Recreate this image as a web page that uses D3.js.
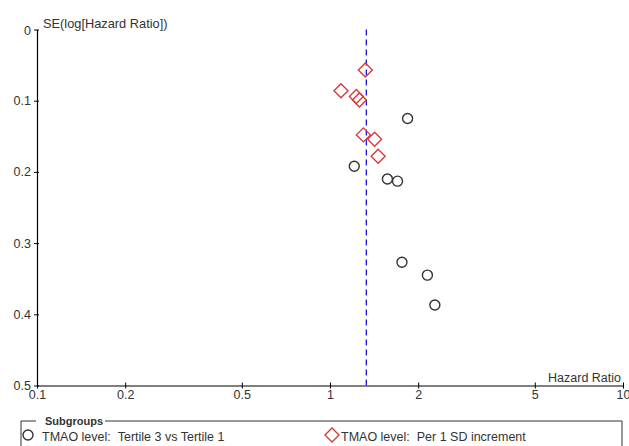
<!DOCTYPE html>
<html>
<head>
<meta charset="utf-8">
<script src="https://cdn.jsdelivr.net/npm/d3@7"></script>
<style>
  body { margin: 0; background: #fff; }
  text { font-family: "Liberation Sans", Arial, sans-serif; fill: #333; }
</style>
</head>
<body>
<div id="plot"></div>
<script>
// Funnel plot data: hazard ratio and SE(log HR) for each study
var tertileHR = [1.84, 1.21, 1.57, 1.70, 1.76, 2.15, 2.28];
var tertileSE = [0.125, 0.192, 0.210, 0.213, 0.327, 0.345, 0.387];
var perSdHR = [1.32, 1.09, 1.23, 1.26, 1.30, 1.42, 1.46];
var perSdSE = [0.057, 0.086, 0.094, 0.099, 0.148, 0.154, 0.178];
var pooledHR = 1.33;

var xTicks = [0.1, 0.2, 0.5, 1, 2, 5, 10];
var yTicks = [0, 0.1, 0.2, 0.3, 0.4, 0.5];
var groupNames = ["TMAO level:\u00A0\u00A0Tertile 3 vs Tertile 1", "TMAO level:\u00A0\u00A0Per 1 SD increment"];

var width = 629, height = 446;

var svg = d3.select("#plot").append("svg")
    .attr("width", width)
    .attr("height", height);

// Scales
var xScale = d3.scaleLog()
    .domain([0.1, 10])
    .range([37, 623]);

var yScale = d3.scaleLinear()
    .domain([0, 0.5])
    .range([29.5, 385.5]);

// Axes
var xAxis = d3.axisBottom(xScale)
    .tickValues(xTicks)
    .tickFormat(function(d) { return String(d); })
    .tickSizeInner(3)
    .tickSizeOuter(0);

var yAxis = d3.axisLeft(yScale)
    .tickValues(yTicks)
    .tickFormat(function(d) { return String(d); })
    .tickSizeInner(3)
    .tickSizeOuter(0);

var gx = svg.append("g")
    .attr("transform", "translate(0," + yScale(0.5) + ")")
    .call(xAxis);

var gy = svg.append("g")
    .attr("transform", "translate(" + xScale(0.1) + ",0)")
    .call(yAxis);

// make ticks cross the axis line like the original
[gx, gy].forEach(function(g) {
    g.select(".domain").attr("stroke", "#000").attr("stroke-width", 1.2);
    g.selectAll(".tick line").attr("stroke", "#000");
    g.selectAll("text").attr("font-size", "12.5px").attr("fill", "#333")
        .attr("font-family", "Liberation Sans, Arial, sans-serif");
});
gx.selectAll(".tick line").attr("y1", -3).attr("y2", 3);
gx.selectAll(".tick text").attr("y", 5);
gy.selectAll(".tick line").attr("x1", -3).attr("x2", 2);
gy.selectAll(".tick text").attr("x", -6);
gy.select(".tick text").attr("dy", "0.4em");

// Axis titles
svg.append("text")
    .attr("x", 43)
    .attr("y", 28)
    .attr("font-size", "12.8px")
    .text("SE(log[Hazard Ratio])");

svg.append("text")
    .attr("x", 621)
    .attr("y", 382)
    .attr("text-anchor", "end")
    .attr("font-size", "12.5px")
    .text("Hazard Ratio");

// Pooled estimate line
svg.append("line")
    .attr("x1", xScale(pooledHR))
    .attr("x2", xScale(pooledHR))
    .attr("y1", yScale(0))
    .attr("y2", yScale(0.5))
    .attr("stroke", "#0000ee")
    .attr("stroke-width", 1.2)
    .attr("stroke-dasharray", "6,4");

// Circles: Tertile 3 vs Tertile 1
var tertile = tertileHR.map(function(d, i) { return [d, tertileSE[i]]; });
svg.selectAll(".circ")
    .data(tertile)
    .enter()
    .append("circle")
    .attr("cx", function(d) { return xScale(d[0]); })
    .attr("cy", function(d) { return yScale(d[1]); })
    .attr("r", 5)
    .attr("fill", "none")
    .attr("stroke", "#333")
    .attr("stroke-width", 1.4);

// Diamonds: Per 1 SD increment
var perSd = perSdHR.map(function(d, i) { return [d, perSdSE[i]]; });
var diamond = "M0,-7L7,0L0,7L-7,0Z";
svg.selectAll(".diam")
    .data(perSd)
    .enter()
    .append("path")
    .attr("d", diamond)
    .attr("transform", function(d) {
        return "translate(" + xScale(d[0]) + "," + yScale(d[1]) + ")";
    })
    .attr("fill", "none")
    .attr("stroke", "#d83a3a")
    .attr("stroke-width", 1.4);

// Legend box
svg.append("path")
    .attr("d", "M21,450V421H36M105,421H622V450")
    .attr("fill", "none")
    .attr("stroke", "#333")
    .attr("stroke-width", 1);

svg.append("text")
    .attr("x", 45)
    .attr("y", 425)
    .attr("font-size", "11px")
    .attr("font-weight", "bold")
    .text("Subgroups");

svg.append("circle")
    .attr("cx", 28)
    .attr("cy", 435)
    .attr("r", 5)
    .attr("fill", "none")
    .attr("stroke", "#333")
    .attr("stroke-width", 1.4);

svg.append("text")
    .attr("x", 42)
    .attr("y", 440.5)
    .attr("font-size", "12.5px")
    .text(groupNames[0]);

svg.append("path")
    .attr("d", diamond)
    .attr("transform", "translate(332,435)")
    .attr("fill", "none")
    .attr("stroke", "#d83a3a")
    .attr("stroke-width", 1.4);

svg.append("text")
    .attr("x", 341)
    .attr("y", 440.5)
    .attr("font-size", "12.5px")
    .text(groupNames[1]);
</script>
</body>
</html>
